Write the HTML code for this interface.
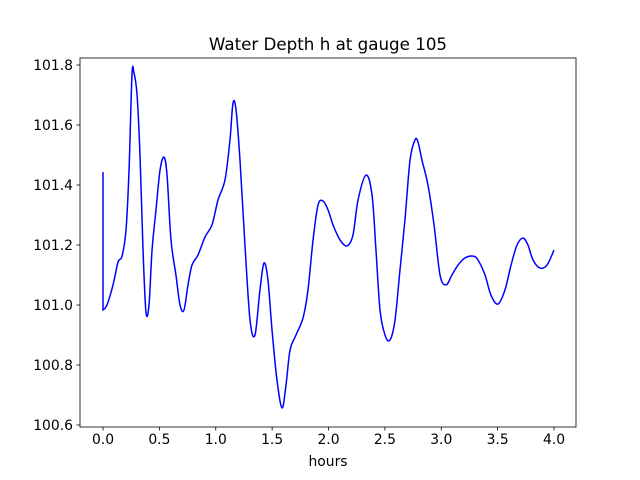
<!DOCTYPE html>
<html><head><meta charset="utf-8"><style>
body{margin:0;background:#fff;}
svg{display:block;font-family:"DejaVu Sans","Liberation Sans",sans-serif;}
</style></head><body>
<svg id="chart" width="640" height="480"></svg>
<script>
const hours=[0,0,0.035,0.089,0.133,0.169,0.204,0.231,0.257,0.275,0.302,0.328,0.355,0.381,0.408,0.435,0.47,0.506,0.541,0.568,0.603,0.647,0.683,0.718,0.754,0.789,0.843,0.905,0.967,1.02,1.082,1.126,1.153,1.18,1.215,1.259,1.304,1.348,1.392,1.428,1.463,1.499,1.543,1.588,1.623,1.659,1.712,1.774,1.818,1.863,1.907,1.951,1.996,2.04,2.102,2.164,2.217,2.262,2.333,2.386,2.421,2.457,2.501,2.545,2.59,2.634,2.678,2.723,2.767,2.794,2.829,2.882,2.936,2.989,3.042,3.095,3.149,3.211,3.282,3.326,3.388,3.441,3.503,3.565,3.619,3.672,3.725,3.769,3.814,3.876,3.938,4.0];
const depth=[101.443,100.983,101.0,101.067,101.143,101.163,101.25,101.45,101.767,101.773,101.7,101.5,101.183,100.977,101.0,101.183,101.317,101.45,101.493,101.433,101.217,101.1,101.0,100.983,101.067,101.133,101.167,101.227,101.267,101.35,101.417,101.55,101.673,101.65,101.483,101.2,100.95,100.9,101.05,101.14,101.083,100.917,100.75,100.657,100.733,100.85,100.9,100.957,101.05,101.217,101.333,101.347,101.317,101.267,101.217,101.197,101.233,101.35,101.433,101.367,101.183,100.983,100.9,100.883,100.95,101.117,101.283,101.483,101.55,101.543,101.483,101.4,101.267,101.1,101.067,101.1,101.133,101.157,101.163,101.15,101.1,101.033,101.003,101.05,101.133,101.2,101.223,101.2,101.15,101.123,101.133,101.183];
const xTicks=[0,0.5,1,1.5,2,2.5,3,3.5,4];
const xTickLabels=["0.0","0.5","1.0","1.5","2.0","2.5","3.0","3.5","4.0"];
const yTicks=[100.6,100.8,101.0,101.2,101.4,101.6,101.8];
const yTickLabels=["100.6","100.8","101.0","101.2","101.4","101.6","101.8"];

const svg=document.getElementById('chart');
const NS='http://www.w3.org/2000/svg';
const L=80,R=576,T=58,B=427;
const xs=v=>103+v*112.75;
const ys=v=>65+(101.8-v)*300;
function mk(tag,attrs){const e=document.createElementNS(NS,tag);for(const k in attrs)e.setAttribute(k,attrs[k]);svg.appendChild(e);return e;}

// line path (Catmull-Rom)
const pts=hours.map((h,i)=>[xs(h),ys(depth[i])]);
let d='M'+pts[0][0]+','+pts[0][1]+' L'+pts[1][0]+','+pts[1][1];
for(let i=1;i<pts.length-1;i++){
  const p0=pts[Math.max(i-1,1)],p1=pts[i],p2=pts[i+1],p3=pts[Math.min(i+2,pts.length-1)];
  const c1=[p1[0]+(p2[0]-p0[0])/6,p1[1]+(p2[1]-p0[1])/6];
  const c2=[p2[0]-(p3[0]-p1[0])/6,p2[1]-(p3[1]-p1[1])/6];
  d+=' C'+c1[0].toFixed(2)+','+c1[1].toFixed(2)+' '+c2[0].toFixed(2)+','+c2[1].toFixed(2)+' '+p2[0].toFixed(2)+','+p2[1].toFixed(2);
}
const line=mk('path',{d:d,fill:'none',stroke:'#0000ff','stroke-width':1.5,'stroke-linejoin':'round'});



const frame=mk('rect',{x:L,y:T,width:R-L,height:B-T,fill:'none',stroke:'#000','stroke-width':0.8});



xTicks.forEach((v,i)=>{
  const x=xs(v);
  const t=mk('line',{x1:x,x2:x,y1:B,y2:B+3.5,stroke:'#000','stroke-width':0.8});
  
  
  const tx=mk('text',{x:x,y:B+17,'text-anchor':'middle','font-size':'13.9px',fill:'#000'});
  tx.textContent=xTickLabels[i];
  
  
});
yTicks.forEach((v,i)=>{
  const y=ys(v);
  const t=mk('line',{x1:L-3.5,x2:L,y1:y,y2:y,stroke:'#000','stroke-width':0.8});
  
  
  const tx=mk('text',{x:L-7,y:y+5,'text-anchor':'end','font-size':'13.9px',fill:'#000'});
  tx.textContent=yTickLabels[i];
  
  
});
const xl=mk('text',{x:(L+R)/2,y:466,'text-anchor':'middle','font-size':'13.9px',fill:'#000'});
xl.textContent='hours';


const ti=mk('text',{x:(L+R)/2,y:50,'text-anchor':'middle','font-size':'16.7px',fill:'#000'});
ti.textContent='Water Depth h at gauge 105';


</script>
</body></html>
